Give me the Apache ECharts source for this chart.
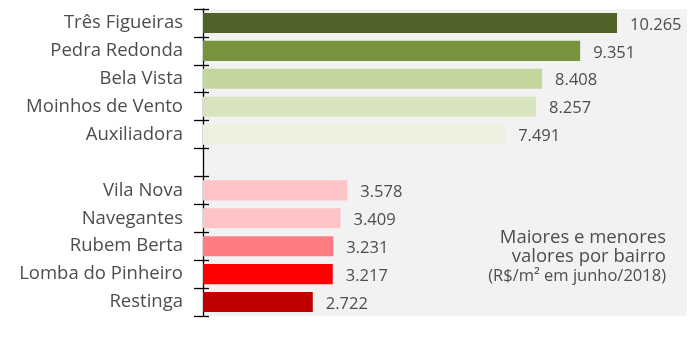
<!DOCTYPE html>
<html>
<head>
<meta charset="utf-8">
<script src="https://cdn.jsdelivr.net/npm/echarts@6/dist/echarts.min.js"></script>
<style>
  html, body { margin: 0; padding: 0; background: #ffffff; }
  #chart { width: 700px; height: 339px; }
</style>
</head>
<body>
<div id="chart"></div>
<script>
// Bairros: five highest and five lowest (blank slot separates the two groups)
const bairros = [
  'Três Figueiras', 'Pedra Redonda', 'Bela Vista', 'Moinhos de Vento', 'Auxiliadora',
  '',
  'Vila Nova', 'Navegantes', 'Rubem Berta', 'Lomba do Pinheiro', 'Restinga'
];
// R$/m² in June 2018
const valores = [10265, 9351, 8408, 8257, 7491, null, 3578, 3409, 3231, 3217, 2722];
const cores = [
  '#4f6228', '#77933c', '#c3d69b', '#d7e4bd', '#ebf1de',
  'transparent',
  '#ffc4c8', '#ffc4c8', '#ff7c80', '#ff0000', '#c00000'
];
const notaLinhas = ['Maiores e menores', 'valores por bairro', '(R$/m² em junho/2018)'];

const FONT = '"Open Sans", "Noto Sans", sans-serif';
const TEXT = '#4d4d4d';

function milhar(v) {
  return String(v).replace(/\B(?=(\d{3})+(?!\d))/g, '.');
}

const chart = echarts.init(document.getElementById('chart'), null, { renderer: 'canvas' });

// note block: two larger lines and a smaller unit line, right-aligned
const notaFonte = [18.5, 18.5, 16.5];
const notaCentro = [238, 257, 276];

chart.setOption({
  animation: false,
  grid: {
    left: 203, right: 13, top: 9, bottom: 23,
    show: true, backgroundColor: '#f2f2f2', borderWidth: 0
  },
  xAxis: {
    type: 'value', min: 0, max: 12000, show: false
  },
  yAxis: [
    {
      type: 'category', data: bairros, inverse: true, position: 'left',
      axisLine: { show: true, lineStyle: { color: '#000', width: 1.3 } },
      axisTick: { show: true, length: 9, lineStyle: { color: '#000', width: 1.3 } },
      axisLabel: { color: TEXT, fontFamily: FONT, fontSize: 18.5, margin: 20 },
      splitLine: { show: false }
    },
    {
      type: 'category', data: bairros, inverse: true, position: 'left',
      axisLine: { show: false },
      axisTick: { show: true, inside: true, length: 6, lineStyle: { color: '#000', width: 1.3 } },
      axisLabel: { show: false },
      splitLine: { show: false }
    }
  ],
  series: [{
    type: 'bar',
    yAxisIndex: 0,
    barCategoryGap: '28%',
    data: valores.map((v, i) => ({ value: v, itemStyle: { color: cores[i] } })),
    label: {
      show: true, position: 'right', distance: 13, offset: [0, 2],
      color: TEXT, fontFamily: FONT, fontSize: 16.5,
      formatter: p => (p.value == null ? '' : milhar(p.value))
    }
  }],
  graphic: notaLinhas.map((t, i) => ({
    type: 'text',
    x: 666,
    y: notaCentro[i],
    style: {
      text: t, fill: TEXT, fontFamily: FONT,
      fontSize: notaFonte[i], textAlign: 'right', textVerticalAlign: 'middle'
    }
  }))
});
</script>
</body>
</html>
